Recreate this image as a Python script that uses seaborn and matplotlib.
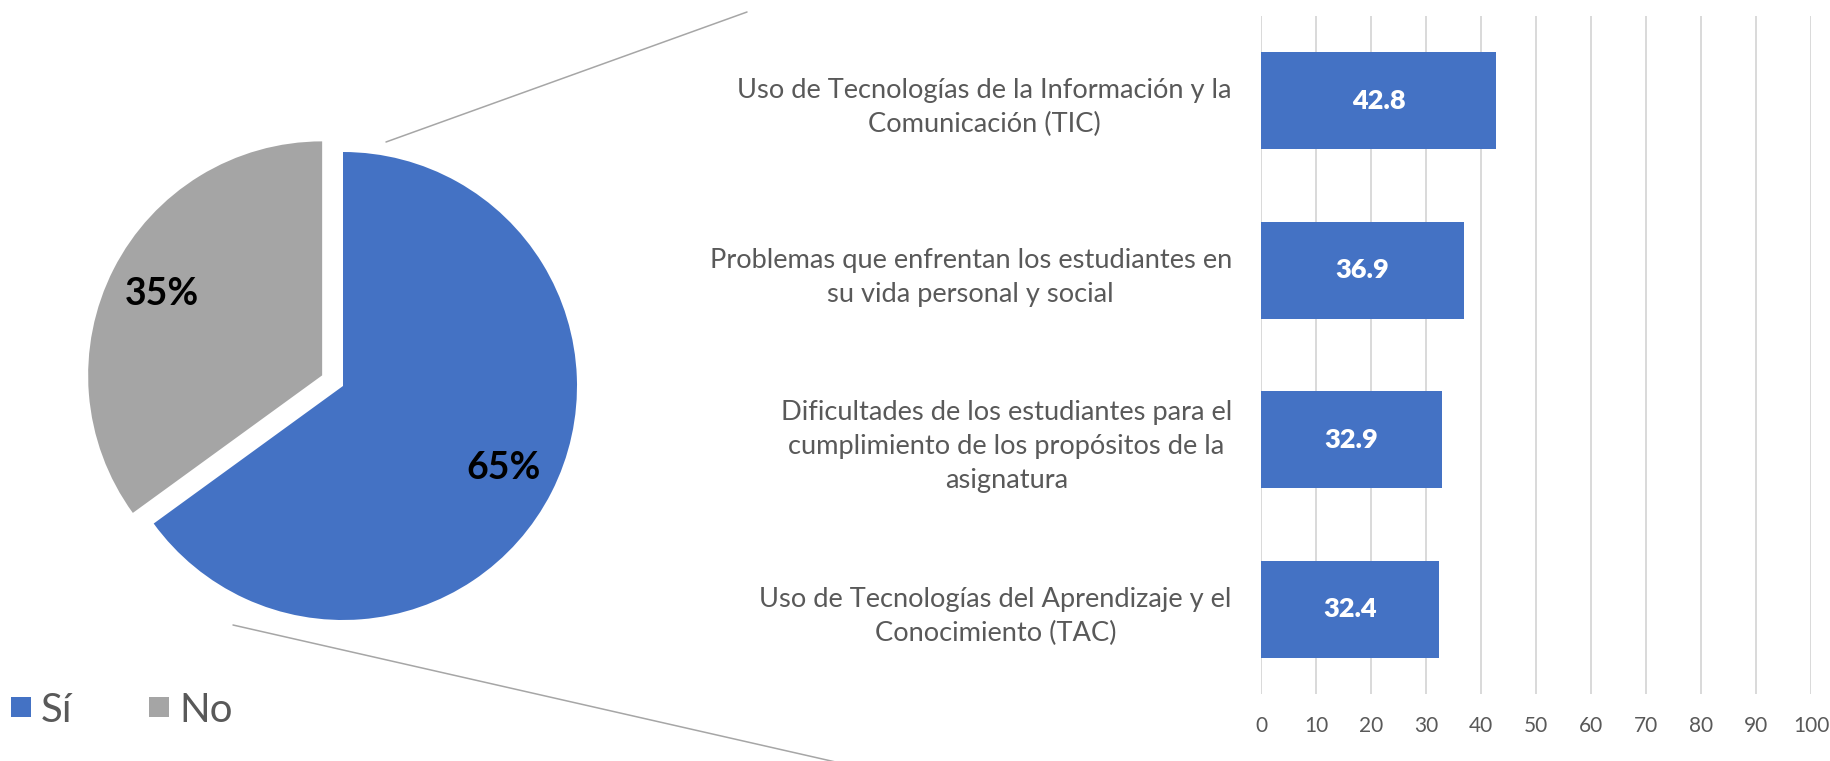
import matplotlib
matplotlib.use("Agg")
import matplotlib.pyplot as plt
import seaborn as sns
import pandas as pd
from matplotlib.lines import Line2D

# Data
pie_labels = ["Sí", "No"]
pie_shares = [65, 35]
categorias = [
    "Uso de Tecnologías de la Información y la\nComunicación (TIC)",
    "Problemas que enfrentan los estudiantes en\nsu vida personal y social",
    "Dificultades de los estudiantes para el\ncumplimiento de los propósitos de la\nasignatura",
    "Uso de Tecnologías del Aprendizaje y el\nConocimiento (TAC)",
]
valores = [42.8, 36.9, 32.9, 32.4]
x_ticks = list(range(0, 101, 10))

BLUE = "#4472C4"
GRAY = "#A5A5A5"
TEXT = "#595959"
GRID = "#D9D9D9"

# Set style
sns.set_theme(style="white")
plt.rcParams["font.family"] = ["Lato", "DejaVu Sans"]

W, H = 1830, 761
fig = plt.figure(figsize=(W / 100, H / 100), dpi=100)

# Pie (center at 343,386 px from top-left, radius 234 px)
R = 234
cx, cy = 343, H - 386
ax_pie = fig.add_axes([0, 0, 2 * cx / W, 2 * cy / H])
wedges, _, autotexts = ax_pie.pie(
    pie_shares, colors=[BLUE, GRAY], startangle=90, counterclock=False,
    explode=[0, 0.1], autopct="%1.0f%%", pctdistance=0.77,
    wedgeprops=dict(linewidth=0),
    textprops=dict(fontsize=27, fontweight="bold", color="black"),
)
ax_pie.set_xlim(-cx / R, cx / R)
ax_pie.set_ylim(-cy / R, cy / R)
ax_pie.set_aspect("auto")
ax_pie.axis("off")

# Legend
handles = [Line2D([], [], marker="s", linestyle="none", markersize=14.4,
                  markerfacecolor=c, markeredgewidth=0) for c in [BLUE, GRAY]]
fig.legend(handles, pie_labels, loc="center left", bbox_to_anchor=(11 / W, 51 / H),
           ncol=2, frameon=False, fontsize=29, handlelength=0.5, handletextpad=0.25,
           columnspacing=1.9, borderpad=0, borderaxespad=0, labelcolor=TEXT)

# Connector lines
for (x0, y0), (x1, y1) in [((386, 142), (747, 12)), ((233, 625), (840, 763))]:
    fig.add_artist(Line2D([x0 / W, x1 / W], [1 - y0 / H, 1 - y1 / H],
                          transform=fig.transFigure, color="#A6A6A6", lw=1.1))

# Bars
ax = fig.add_axes([1261 / W, 67 / H, 550 / W, 678 / H])
df = pd.DataFrame({"cat": categorias, "val": valores})
sns.barplot(data=df, x="val", y="cat", orient="h", color=BLUE, saturation=1,
            width=0.57, linewidth=0, ax=ax)
ax.bar_label(ax.containers[0], labels=[f"{v:.1f}" for v in valores], label_type="center",
             color="white", fontsize=19.5, fontweight="heavy")
ax.set_xlim(0, 100)
ax.set_xticks(x_ticks)
ax.set_xlabel("")
ax.set_ylabel("")
ax.xaxis.grid(True, color=GRID, linewidth=1.4)
ax.set_axisbelow(True)
for s in ax.spines.values():
    s.set_visible(False)
ax.tick_params(axis="x", length=0, pad=16, labelsize=15, labelcolor=TEXT)
ax.tick_params(axis="y", length=0, pad=21, labelsize=19.6, labelcolor=TEXT)
for t in ax.get_yticklabels():
    t.set_multialignment("center")
    t.set_linespacing(1.45)

fig.savefig("out.png", dpi=100, facecolor="white")
